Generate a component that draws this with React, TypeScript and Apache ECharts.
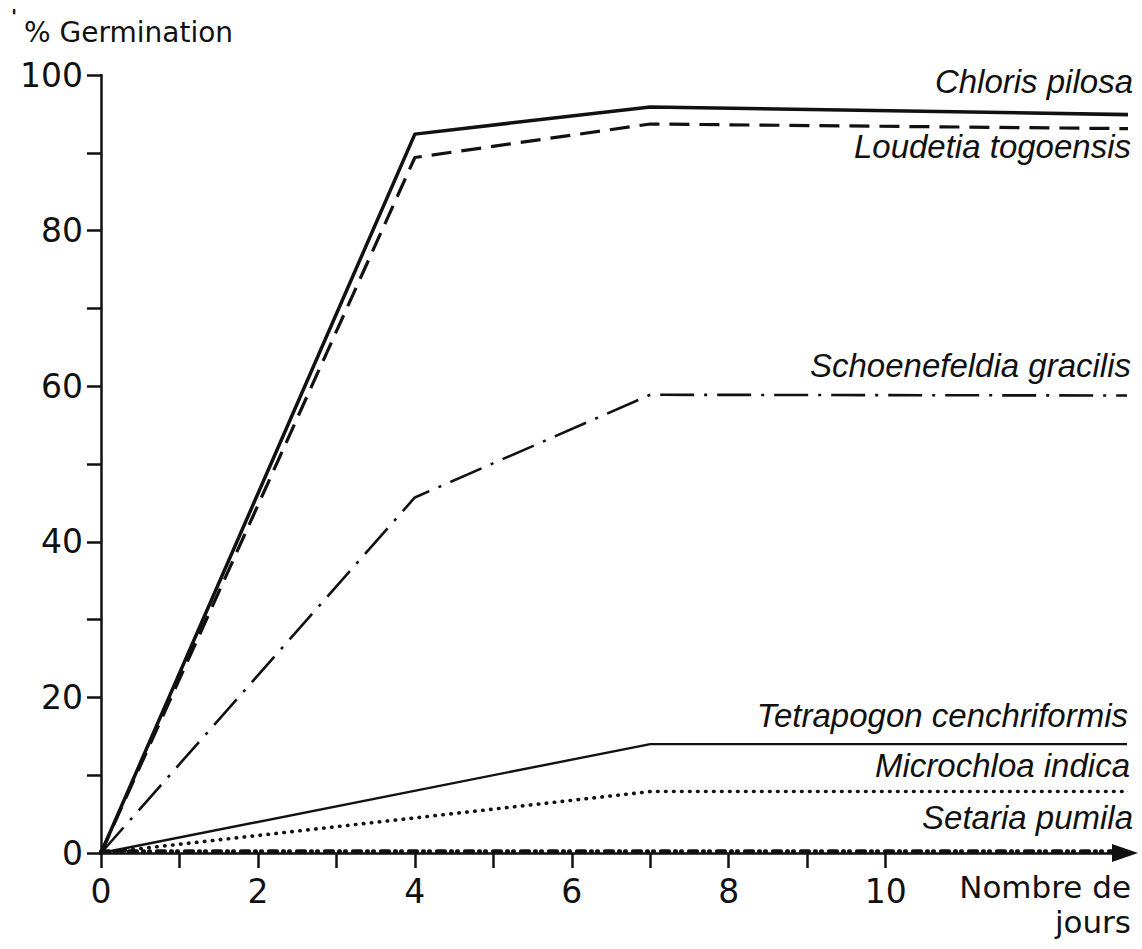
import React, { useEffect, useRef } from 'react';
import * as echarts from 'echarts';

// Germination (%) versus number of days
const chlorisPilosa: number[][] = [[0, 0], [4, 92.4], [7, 95.9], [13.13, 94.9]];
const loudetiaTogoensis: number[][] = [[0, 0], [4, 89.4], [7, 93.7], [13.13, 93.1]];
const schoenefeldiaGracilis: number[][] = [[0, 0], [4, 45.7], [7, 58.9], [13.13, 58.8]];
const tetrapogonCenchriformis: number[][] = [[0, 0], [7, 14.0], [13.13, 14.0]];
const microchloaIndica: number[][] = [[0, 0], [7, 7.9], [13.13, 7.9]];
const setariaPumila: number[][] = [[0, 0.2], [7, 0.2], [13.13, 0.2]];

const xTickValues = [0, 1, 2, 3, 4, 5, 6, 7, 8, 9, 10];
const xLabelValues = [0, 2, 4, 6, 8, 10];
const yTickValues = [0, 10, 20, 30, 40, 50, 60, 70, 80, 90, 100];
const yLabelValues = [0, 20, 40, 60, 80, 100];

const yTitle = '% Germination';
const xTitle1 = 'Nombre de';
const xTitle2 = 'jours';

const INK = '#111111';
const NUM_FONT = '"DejaVu Sans", "Liberation Sans", sans-serif';
const ITAL_FONT = '"Liberation Sans", "DejaVu Sans", sans-serif';

export default function App() {
  const ref = useRef<HTMLDivElement>(null);

  useEffect(() => {
    if (!ref.current) return;
    const chart = echarts.init(ref.current, null, { renderer: 'svg' });

    const mkLine = (name: string, data: number[][], width: number, type: any, cap: any = 'butt') => ({
      name,
      type: 'line',
      data,
      symbol: 'none',
      clip: false,
      z: 5,
      lineStyle: { color: INK, width, type, cap, join: 'round' },
    });

    const species = (text: string, y: number, x = 1133) => ({
      type: 'text',
      x,
      y,
      style: {
        text,
        fill: INK,
        font: `italic 33px ${ITAL_FONT}`,
        textAlign: 'right',
        textVerticalAlign: 'bottom',
      },
    });

    chart.setOption({
      animation: false,
      backgroundColor: '#ffffff',
      grid: { left: 101, right: 17, top: 75, bottom: 96, containLabel: false },
      xAxis: {
        type: 'value',
        min: 0,
        max: 13.05,
        interval: 1,
        splitLine: { show: false },
        axisLine: {
          show: true,
          onZero: false,
          symbol: ['none', 'triangle'],
          symbolSize: [18, 26],
          lineStyle: { color: INK, width: 2.5 },
        },
        axisTick: {
          show: true,
          customValues: xTickValues,
          length: 15,
          lineStyle: { color: INK, width: 2.5 },
        },
        axisLabel: {
          customValues: xLabelValues,
          color: INK,
          fontSize: 33,
          fontFamily: NUM_FONT,
          margin: 22,
        },
      },
      yAxis: {
        type: 'value',
        min: 0,
        max: 100,
        interval: 10,
        splitLine: { show: false },
        axisLine: { show: true, onZero: false, lineStyle: { color: INK, width: 2.5 } },
        axisTick: {
          show: true,
          customValues: yTickValues,
          length: 14,
          lineStyle: { color: INK, width: 2.5 },
        },
        axisLabel: {
          customValues: yLabelValues,
          color: INK,
          fontSize: 33,
          fontFamily: NUM_FONT,
          margin: 18,
        },
      },
      series: [
        mkLine('Chloris pilosa', chlorisPilosa, 3.5, 'solid'),
        mkLine('Loudetia togoensis', loudetiaTogoensis, 3.2, [20, 10]),
        mkLine('Schoenefeldia gracilis', schoenefeldiaGracilis, 2.6, [34, 10, 3, 10]),
        mkLine('Tetrapogon cenchriformis', tetrapogonCenchriformis, 2.4, 'solid'),
        mkLine('Microchloa indica', microchloaIndica, 3.6, [0.5, 7.5], 'round'),
        mkLine('Setaria pumila', setariaPumila, 4.2, [8, 6, 1, 5, 1, 7], 'round'),
      ],
      graphic: [
        {
          type: 'text',
          x: 11,
          y: 6,
          style: { text: "'", fill: INK, font: `bold 20px ${NUM_FONT}` },
        },
        {
          type: 'text',
          x: 24,
          y: 32,
          style: {
            text: yTitle,
            fill: INK,
            font: `28px ${NUM_FONT}`,
            textVerticalAlign: 'middle',
          },
        },
        species('Chloris pilosa', 98),
        species('Loudetia togoensis', 163, 1131),
        species('Schoenefeldia gracilis', 382, 1131),
        species('Tetrapogon cenchriformis', 732, 1128),
        species('Microchloa indica', 782, 1130),
        species('Setaria pumila', 834),
        {
          type: 'text',
          x: 1131,
          y: 902,
          style: {
            text: xTitle1,
            fill: INK,
            font: `31px ${NUM_FONT}`,
            textAlign: 'right',
            textVerticalAlign: 'bottom',
          },
        },
        {
          type: 'text',
          x: 1131,
          y: 937,
          style: {
            text: xTitle2,
            fill: INK,
            font: `31px ${NUM_FONT}`,
            textAlign: 'right',
            textVerticalAlign: 'bottom',
          },
        },
      ],
    });

    return () => chart.dispose();
  }, []);

  return (
    <div
      ref={ref}
      style={{ position: 'absolute', left: 0, top: 0, width: 1142, height: 949, background: '#fff' }}
    />
  );
}
